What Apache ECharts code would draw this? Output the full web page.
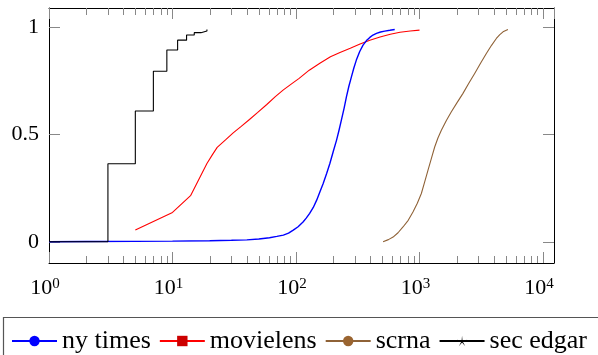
<!DOCTYPE html>
<html><head><meta charset="utf-8">
<script src="https://cdn.jsdelivr.net/npm/echarts@6/dist/echarts.min.js"></script>
<style>html,body{margin:0;padding:0;background:#fff}#c{width:598px;height:355px}</style>
</head><body><div id="c"></div>
<script>
// ---- data ----
const seriesNames = ['ny times', 'movielens', 'scrna', 'sec edgar'];
const nyTimes = [[1,0],[2,0.001],[5,0.002],[10,0.003],[20,0.005],[30,0.007],[40,0.009],[50,0.013],[61,0.019],[70,0.025],[79,0.031],[87,0.04],[95,0.054],[104,0.07],[114,0.092],[121,0.11],[129,0.132],[138,0.16],[147,0.194],[156,0.232],[166,0.272],[177,0.318],[188,0.365],[200,0.42],[213,0.474],[223,0.52],[233,0.567],[245,0.622],[256,0.676],[268,0.725],[281,0.769],[294,0.81],[308,0.847],[328,0.887],[349,0.917],[372,0.938],[396,0.953],[420,0.964],[448,0.972],[484,0.978],[523,0.982],[575,0.986],[630,0.99]];
const movielens = [[5,0.055],[10,0.137],[14,0.215],[19,0.365],[21,0.405],[23,0.44],[27,0.476],[31,0.508],[36,0.538],[42,0.57],[49,0.603],[58,0.64],[68,0.677],[79,0.708],[92,0.736],[106,0.762],[128,0.8],[156,0.832],[190,0.863],[227,0.883],[275,0.902],[330,0.922],[396,0.94],[479,0.955],[580,0.968],[695,0.977],[840,0.983],[1000,0.987]];
const scrna = [[507,0],[560,0.01],[611,0.022],[670,0.042],[735,0.069],[810,0.1],[885,0.139],[960,0.18],[1035,0.225],[1100,0.278],[1172,0.334],[1250,0.39],[1327,0.442],[1410,0.484],[1503,0.52],[1650,0.565],[1811,0.606],[2020,0.65],[2249,0.692],[2500,0.738],[2797,0.785],[3120,0.832],[3477,0.878],[3830,0.916],[4190,0.948],[4470,0.966],[4745,0.979],[5200,0.99]];
const secEdgar = [[1,0],[3,0.364],[5,0.61],[7,0.795],[9,0.894],[11,0.94],[13,0.964],[15,0.975],[17,0.983],[19,0.99]];
const yTickValues = [0, 0.5, 1];
const xMinorTicks = [2,3,4,5,6,7,8,9,20,30,40,50,60,70,80,90,200,300,400,500,600,700,800,900,2000,3000,4000,5000,6000,7000,8000,9000];

const chart = echarts.init(document.getElementById('c'), null, {renderer: 'canvas'});
const FONT = 'Liberation Serif';
const X_MIN = 1, X_MAX = 12274, Y_MIN = -0.099, Y_MAX = 1.09;
const tickColor = '#888';
const starPath = 'path://M0 -10 L0.88 -1.21 L9.51 -3.09 L1.43 0.46 L5.88 8.09 L0 1.5 L-5.88 8.09 L-1.43 0.46 L-9.51 -3.09 L-0.88 -1.21 Z';

function xAxisCfg(pos, showLabel) {
  return {
    type: 'log', logBase: 10, min: X_MIN, max: X_MAX, position: pos, gridIndex: 0,
    axisLine: {show: true, onZero: false, lineStyle: {color: '#000', width: 1}},
    axisTick: {show: true, inside: true, length: 11, lineStyle: {color: tickColor, width: 1}},
    splitLine: {show: false},
    minorTick: {show: false},
    axisLabel: {
      show: showLabel, margin: 14, showMaxLabel: false,
      padding: [0, 8, 0, 0],
      formatter: v => '{a|10}{b|' + Math.round(Math.log10(v)) + '}',
      rich: {
        a: {fontFamily: FONT, fontSize: 22, lineHeight: 22, color: '#000'},
        b: {fontFamily: FONT, fontSize: 15, lineHeight: 14, verticalAlign: 'top', color: '#000'}
      }
    }
  };
}
function yAxisCfg(pos, showLabel) {
  return {
    type: 'value', min: Y_MIN, max: Y_MAX, position: pos, gridIndex: 0,
    axisLine: {show: true, onZero: false, lineStyle: {color: '#000', width: 1}},
    axisTick: {show: true, inside: true, length: 11, customValues: yTickValues, lineStyle: {color: tickColor, width: 1}},
    splitLine: {show: false},
    axisLabel: {show: showLabel, margin: 10, customValues: yTickValues, fontFamily: FONT, fontSize: 22, color: '#000'}
  };
}

const option = {
  animation: false,
  backgroundColor: '#fff',
  grid: {left: 49, right: 44, top: 8, bottom: 92, containLabel: false},
  xAxis: [xAxisCfg('bottom', true), xAxisCfg('top', false)],
  yAxis: [yAxisCfg('left', true), yAxisCfg('right', false)],
  legend: {
    data: seriesNames, left: 11, top: 327, orient: 'horizontal',
    itemWidth: 45, itemHeight: 13, itemGap: 8, padding: 0,
    textStyle: {fontFamily: FONT, fontSize: 26, lineHeight: 28, color: '#000'}
  },
  graphic: [{type: 'rect', shape: {x: 3.5, y: 317.5, width: 700, height: 100}, style: {fill: 'none', stroke: '#555', lineWidth: 1.2}, silent: true}],
  series: [
    {name: 'ny times', type: 'line', data: nyTimes, smooth: false, showSymbol: false, symbol: 'circle',
     lineStyle: {color: '#0000ff', width: 1.4}, itemStyle: {color: '#0000ff'}, z: 3},
    {name: 'movielens', type: 'line', data: movielens, smooth: false, showSymbol: false, symbol: 'rect',
     lineStyle: {color: '#ff0000', width: 1.1}, itemStyle: {color: '#cc0000'}, z: 2},
    {name: 'scrna', type: 'line', data: scrna, smooth: false, showSymbol: false, symbol: 'circle',
     lineStyle: {color: '#8f6237', width: 1.1}, itemStyle: {color: '#9a6430'}, z: 2},
    {name: 'sec edgar', type: 'line', data: secEdgar, step: 'end', showSymbol: false, symbol: starPath,
     lineStyle: {color: '#000', width: 1.1}, itemStyle: {color: '#000'}, z: 4},
    {type: 'custom', silent: true, clip: false, z: 1,
     data: xMinorTicks.map(v => [v, 0]),
     encode: {x: 0, y: 1},
     renderItem: function (params, api) {
       const x = Math.round(api.coord([api.value(0), 0])[0]) + 0.5;
       const cs = params.coordSys;
       const yb = cs.y + cs.height, yt = cs.y;
       return {type: 'group', children: [
         {type: 'line', shape: {x1: x, y1: yb, x2: x, y2: yb - 7}, style: {stroke: tickColor, lineWidth: 1}},
         {type: 'line', shape: {x1: x, y1: yt, x2: x, y2: yt + 7}, style: {stroke: tickColor, lineWidth: 1}}
       ]};
     }}
  ]
};
chart.setOption(option);
</script></body></html>
